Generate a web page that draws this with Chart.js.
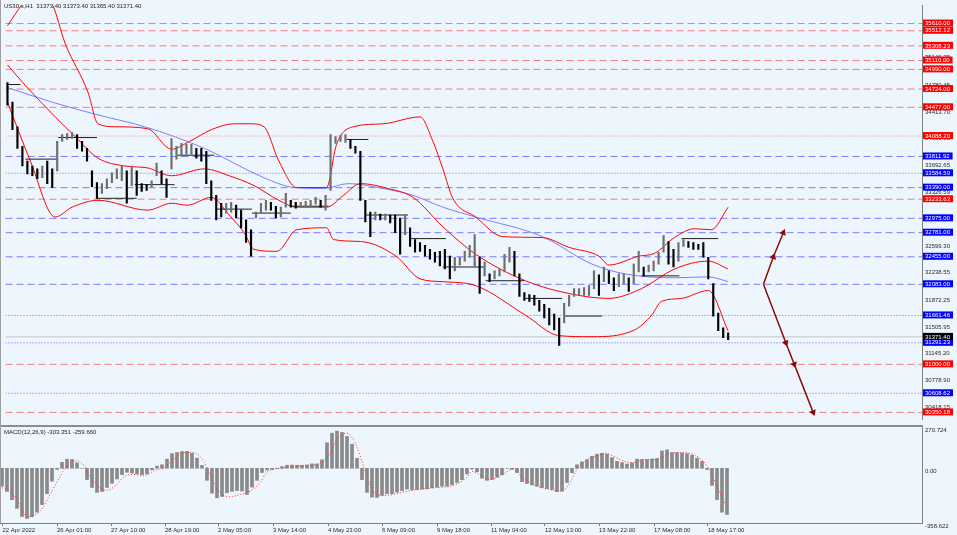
<!DOCTYPE html>
<html lang="en">
<head>
<meta charset="utf-8">
<title>US30.s H1</title>
<script src="https://cdn.jsdelivr.net/npm/chart.js@4/dist/chart.umd.min.js"></script>
<style>
  body { margin: 0; width: 957px; height: 535px; overflow: hidden; position: relative; background: #eef6fd; font-family: 'Liberation Sans', Arial, sans-serif; }
  canvas { position: absolute; left: 0; }
  #price { top: 0; }
  #macd { top: 420px; }
  .separator { position: absolute; left: 0; top: 425px; width: 923px; height: 2px; background: #8c8c8c; }
  .left-edge { position: absolute; left: 0; top: 0; width: 1px; height: 523px; background: #a0a0a0; }
  .caption { position: absolute; left: 4px; font-size: 6px; line-height: 7px; color: #1a1a1a; white-space: pre; }
</style>
</head>
<body>
<canvas id="price" width="957" height="425"></canvas>
<canvas id="macd" width="957" height="115"></canvas>
<div class="separator"></div>
<div class="left-edge"></div>
<div class="caption" style="top:3px">US30.s,H1  31373.40 31373.40 31365.40 31371.40</div>
<div class="caption" style="top:429px">MACD(12,26,9) -303.351 -259.660</div>
<script>
// Price bars (high / low), one entry every few hours
const barHigh = [
  34811, 34546, 34214, 33949, 33750, 33683, 33644, 33683, 33750, 33644,
  34015, 34108, 34121, 34135, 34108, 34015, 33922, 33617, 33458, 33445,
  33511, 33591, 33644, 33683, 33617, 33683, 33617, 33445, 33431, 33484,
  33723, 33617, 33511, 34055, 33949, 33989, 33975, 33975, 33922, 33922,
  33883, 33484, 33286, 33179, 33179, 33193, 33153, 33086, 32954, 32821,
  33060, 33179, 33219, 33193, 33139, 33126, 33312, 33219, 33193, 33193,
  33206, 33219, 33259, 33219, 33286, 34108, 34082, 34095, 34108, 34042,
  33949, 33883, 33219, 33060, 33060, 33033, 33033, 33020, 33020, 32980,
  33020, 32847, 32688, 32648, 32609, 32555, 32516, 32529, 32555, 32463,
  32449, 32449, 32529, 32609, 32755, 32449, 32383, 32224, 32264, 32290,
  32489, 32582, 32529, 32224, 31972, 31945, 31932, 31865, 31812, 31759,
  31680, 31627, 31826, 31932, 32025, 32025, 32038, 32065, 32264, 32210,
  32317, 32264, 32171, 32224, 32224, 32171, 32356, 32529, 32317, 32343,
  32396, 32516, 32741, 32662, 32555, 32648, 32688, 32662, 32648, 32622,
  32648, 32449, 32091, 31693, 31494, 31428,
]
const barLow = [
  34506, 34174, 33922, 33683, 33577, 33551, 33511, 33524, 33445, 33392,
  33617, 34015, 34042, 34055, 33922, 33883, 33750, 33405, 33246, 33312,
  33378, 33458, 33511, 33484, 33179, 33418, 33286, 33339, 33352, 33392,
  33551, 33445, 33259, 33644, 33776, 33816, 33843, 33843, 33790, 33750,
  33445, 33219, 32954, 32993, 33046, 33060, 32980, 32847, 32648, 32463,
  32980, 33046, 33086, 33086, 32980, 32993, 33126, 33126, 33113, 33126,
  33126, 33126, 33166, 33126, 33086, 33352, 33989, 34015, 34002, 33922,
  33856, 33219, 32927, 32728, 32954, 32954, 32954, 32914, 32781, 32489,
  32755, 32595, 32516, 32529, 32463, 32423, 32383, 32330, 32290, 32157,
  32264, 32343, 32396, 32449, 32317, 31958, 32197, 32118, 32157, 32197,
  32250, 32383, 32197, 31918, 31865, 31852, 31799, 31719, 31627, 31534,
  31467, 31255, 31560, 31786, 31918, 31932, 31932, 31932, 32025, 31932,
  32118, 32091, 31998, 32051, 32091, 31985, 32091, 32250, 32197, 32250,
  32264, 32356, 32516, 32356, 32317, 32396, 32595, 32582, 32555, 32555,
  32449, 32157, 31653, 31454, 31361, 31335,
]
const lastPrice = 31371.40

// Bollinger bands and the slow moving average (bar index / value)
const bbUpperX = [0, 3, 5.6, 9, 11.6, 16.2, 18.2, 21.6, 28.2, 33, 36.6, 41, 45.6, 49, 51.6, 54.6, 58.2, 64.2, 66.2, 69.6, 75.6, 83, 85.6, 87.6, 89.6, 94.2, 99.6, 107.6, 113, 119, 121, 127, 130.2, 134.2, 138.2, 141.6, 145]
const bbUpperY = [35581, 35873, 36070, 35873, 35342, 34679, 34254, 34214, 34188, 33909, 34015, 34174, 34254, 34254, 34214, 33750, 33392, 33392, 33975, 34214, 34254, 34347, 34015, 33644, 33246, 32993, 32728, 32715, 32582, 32463, 32343, 32463, 32502, 32715, 32834, 32821, 33126]
const bbMiddleX = [0, 3.6, 9.6, 13.6, 18.2, 23.6, 28.2, 33, 39.6, 44.6, 49.6, 54.6, 58.2, 64.2, 67.6, 71, 76.6, 81.6, 87.6, 94.2, 104.2, 113, 121, 127.6, 134.2, 141, 145]
const bbMiddleY = [35050, 34772, 34347, 34082, 33790, 33683, 33657, 33551, 33644, 33551, 33418, 33219, 33126, 33126, 33286, 33445, 33378, 33259, 32861, 32489, 32131, 31958, 31892, 32025, 32290, 32396, 32290]
const bbLowerX = [0, 4.6, 9.6, 13, 18.2, 28.2, 33, 36.2, 41, 44.6, 47.6, 49.6, 54.2, 58.2, 64.2, 65.6, 71, 78.2, 83, 87.6, 94.2, 104.2, 111, 117.6, 126.2, 129.6, 131.6, 135.6, 141, 145]
const bbLowerY = [34546, 33750, 32993, 33126, 33219, 33086, 33179, 33153, 33259, 33020, 32781, 32555, 32529, 32821, 32847, 32688, 32662, 32463, 32157, 32118, 32065, 31666, 31388, 31374, 31467, 31666, 31852, 31892, 31998, 31454]
const maX = [0, 9, 18.2, 27.6, 39.6, 51.6, 57.6, 63.6, 68.6, 75.6, 81.6, 87.6, 94.2, 107.6, 117.6, 124.2, 134.2, 141, 145]
const maY = [34745, 34546, 34374, 34214, 33922, 33524, 33392, 33378, 33445, 33378, 33286, 33126, 32993, 32728, 32356, 32224, 32171, 32184, 32118]

// Short horizontal pivot segments (start bar, end bar, price)
const pivotStart = [0, 3.6, 10.2, 18.2, 25.6, 34.2, 42.2, 49.2, 57, 68.2, 72.2, 81.2, 87.6, 96.2, 104.2, 112.2, 127.6, 135.6]
const pivotEnd = [2.6, 10, 18, 26, 33.6, 41.6, 49.2, 57, 64.6, 72.6, 80.6, 88.2, 96, 104, 111.6, 119.6, 135.2, 143]
const pivotLevel = [34785, 33776, 34068, 33246, 33431, 33829, 33100, 33046, 33139, 34042, 33020, 32701, 32317, 32131, 31892, 31653, 32197, 32701]

// Horizontal levels
const redLevels = [35610.00, 35512.12, 35308.23, 35110.00, 34990.00, 34724.00, 34477.00, 33233.63, 31000.00, 30350.18]
const redDottedLevels = [34088.20]
const blueLevels = [33811.92, 33390.00, 32975.00, 32781.00, 32455.00, 32083.00]
const blueDottedLevels = [33584.59, 31661.46, 31291.23, 30608.62]
const priceAxisLabels = [35146.75, 34780.45, 34413.70, 34058.95, 33692.65, 33326.59, 32965.60, 32599.30, 32238.55, 31872.25, 31505.95, 31145.20, 30778.90, 30418.15]

// Projection arrows
const upArrowX = [152.1, 154.1, 156.1]
const upArrowY = [32083, 32455, 32781]
const downArrowX = [152.1, 156.6, 158.3, 162.1]
const downArrowY = [32083, 31291.23, 31000, 30350.18]

// MACD(12,26,9)
const macdHist = [
  -117, -152, -206, -263, -316, -329, -318, -288, -238, -167,
  -84, -7, 39, 60, 58, 35, 0, -74, -126, -158,
  -152, -126, -98, -70, -42, -26, -31, -37, -42, -37,
  -9, 14, 23, 60, 96, 104, 110, 111, 98, 67,
  19, -79, -163, -194, -185, -160, -151, -146, -149, -172,
  -123, -79, -28, -11, -7, -1, 11, 20, 21, 20,
  20, 22, 29, 28, 56, 167, 230, 244, 235, 209,
  158, 65, -74, -158, -189, -191, -177, -166, -166, -156,
  -146, -136, -141, -140, -137, -135, -128, -123, -117, -117,
  -108, -93, -74, -37, -5, -23, -65, -79, -73, -58,
  -42, 0, -7, -28, -88, -100, -109, -117, -126, -133,
  -139, -153, -149, -93, -29, 23, 42, 56, 79, 93,
  98, 93, 70, 45, 37, 28, 35, 60, 58, 58,
  61, 64, 114, 121, 103, 103, 100, 96, 86, 67,
  45, -7, -112, -205, -288, -303,
]
const signalX = [0, 1.6, 3.6, 4.9, 7.6, 9.6, 11.3, 12.9, 14.6, 15.9, 17.6, 19.6, 20.9, 22.6, 24.6, 26.3, 28.3, 30.3, 32.3, 34.3, 36.3, 38.3, 40.3, 41.9, 43.6, 45.6, 47.6, 49.6, 51.6, 52.9, 54.3, 56.3, 59.6, 62.9, 65.3, 66.9, 68.9, 70.6, 72.3, 73.6, 74.9, 76.9, 79.6, 82.9, 86.3, 90.3, 92.9, 94, 95.6, 97.6, 100.2, 102.2, 104.2, 107, 109.6, 112, 113.6, 115, 116.6, 119, 120.6, 122.2, 124.2, 126.2, 128.2, 131, 133.6, 136.2, 138.2, 140.2, 141.6, 143, 144.2, 145]
const signalY = [-128, -150, -238, -315, -282, -172, -73, 15, 48, 37, -51, -128, -145, -117, -51, -40, -51, -18, 4, 59, 103, 103, 48, -62, -161, -187, -172, -150, -95, -29, -7, 4, 15, 26, 81, 180, 231, 169, 15, -106, -172, -178, -161, -139, -128, -112, -62, -20, -45, -73, -40, -2, -62, -117, -139, -150, -95, -7, 48, 81, 99, 81, 48, 37, 55, 59, 99, 103, 92, 48, -18, -117, -205, -255]
const macdAxisValues = [270.724, 0, -358.622]
const macdAxisLabels = ['270.724', '0.00', '-358.622']

// Time axis
const timeTickIndex = [0.1, 11, 21.8, 32.6, 43.2, 54.2, 65.2, 76, 87, 97.8, 108.6, 119.4, 130.4, 141.2]
const timeTickLabels = ['22 Apr 2022', '26 Apr 01:00', '27 Apr 10:00', '28 Apr 19:00', '2 May 05:00', '3 May 14:00', '4 May 23:00', '6 May 09:00', '9 May 18:00', '11 May 04:00', '12 May 13:00', '13 May 22:00', '17 May 08:00', '18 May 17:00']

const X_MIN = -0.4
const X_MAX = 184
const FONT = { family: "'Liberation Sans', Arial, sans-serif", size: 6, lineHeight: 1 }
const AXIS_GRAY = '#808080'

const points = (xs, ys) => xs.map((x, i) => ({ x, y: ys[i] }))

const levelLine = (value, color, dash) => ({
  data: [{ x: X_MIN, y: value }, { x: X_MAX, y: value }],
  borderColor: color,
  borderWidth: 1,
  borderDash: dash,
  order: 6,
})

const smoothLine = (xs, ys, color) => ({
  data: points(xs, ys),
  borderColor: color,
  borderWidth: 1,
  cubicInterpolationMode: 'monotone',
  order: 4,
})

const arrow = (xs, ys, rotation) => ({
  data: points(xs, ys),
  borderColor: '#8b0a0a',
  backgroundColor: '#8b0a0a',
  borderWidth: 1.5,
  pointStyle: 'triangle',
  pointRotation: rotation,
  pointRadius: xs.map((x, i) => (i === 0 ? 0 : 2.5)),
  order: 0,
})

const barColors = barHigh.map((high, i) => {
  if (i === 0) return '#000000'
  const mid = (high + barLow[i]) / 2
  const prevMid = (barHigh[i - 1] + barLow[i - 1]) / 2
  return mid < prevMid ? '#000000' : '#6e6e6e'
})

const pivotData = []
pivotLevel.forEach((level, i) => {
  pivotData.push({ x: pivotStart[i], y: level }, { x: pivotEnd[i], y: level }, { x: pivotEnd[i], y: null })
})

// which style each price-axis label gets
const tickKind = new Map()
priceAxisLabels.forEach((v) => tickKind.set(v, 'gray'))
blueLevels.concat(blueDottedLevels).forEach((v) => tickKind.set(v, 'blue'))
redLevels.concat(redDottedLevels).forEach((v) => tickKind.set(v, 'red'))
tickKind.set(lastPrice, 'black')
const backdrops = { red: '#ff0000', blue: '#0000ff', black: '#000000' }
const kindOf = (ctx) => (ctx.tick ? tickKind.get(ctx.tick.value) : 'gray')

const levelDatasets = [
  ...redLevels.map((v) => levelLine(v, '#f27c7c', [7, 4])),
  ...redDottedLevels.map((v) => levelLine(v, '#f27c7c', [1, 2])),
  ...blueLevels.map((v) => levelLine(v, '#7a7aff', [7, 4])),
  ...blueDottedLevels.map((v) => levelLine(v, '#6a6aff', [1, 2])),
  levelLine(lastPrice, '#c4c4c4', []),
]

Chart.defaults.font.family = FONT.family
Chart.defaults.animation = false

new Chart(document.getElementById('price'), {
  type: 'line',
  data: {
    datasets: [
      arrow(upArrowX, upArrowY, 21),
      arrow(downArrowX, downArrowY, 159),
      {
        type: 'bar',
        data: barHigh.map((high, i) => ({ x: i, y: [barLow[i], high] })),
        backgroundColor: barColors,
        barThickness: 1.5,
        order: 1,
      },
      { data: pivotData, borderColor: '#1e1e1e', borderWidth: 1, order: 2 },
      smoothLine(bbUpperX, bbUpperY, '#ff0000'),
      smoothLine(bbMiddleX, bbMiddleY, '#ff0000'),
      smoothLine(bbLowerX, bbLowerY, '#ff0000'),
      { ...smoothLine(maX, maY, '#7c7cff'), order: 5 },
      ...levelDatasets,
    ],
  },
  options: {
    responsive: false,
    devicePixelRatio: 1,
    events: [],
    layout: { padding: 0 },
    elements: { point: { radius: 0 }, line: { tension: 0 } },
    plugins: { legend: { display: false }, tooltip: { enabled: false } },
    scales: {
      x: { type: 'linear', min: X_MIN, max: X_MAX, display: false, offset: false },
      y: {
        type: 'linear',
        position: 'right',
        min: 30254,
        max: 35854,
        afterBuildTicks: (scale) => {
          scale.ticks = [...tickKind.keys()].map((value) => ({ value }))
        },
        afterFit: (scale) => {
          scale.width = 35
          scale.paddingTop = 0
          scale.paddingBottom = 0
        },
        grid: { display: false, drawTicks: false },
        border: { display: true, color: AXIS_GRAY },
        ticks: {
          autoSkip: false,
          padding: 3,
          font: FONT,
          color: (ctx) => (kindOf(ctx) === 'gray' ? '#2a2a2a' : '#ffffff'),
          showLabelBackdrop: (ctx) => kindOf(ctx) !== 'gray',
          backdropColor: (ctx) => backdrops[kindOf(ctx)] || 'rgba(0,0,0,0)',
          backdropPadding: { top: 1, bottom: 0, left: 2, right: 3 },
          callback: (value) => value.toFixed(2),
        },
      },
    },
  },
})

new Chart(document.getElementById('macd'), {
  type: 'bar',
  data: {
    datasets: [
      {
        type: 'line',
        data: points(signalX, signalY),
        borderColor: '#ff2a2a',
        borderWidth: 1,
        borderDash: [1, 2],
        pointRadius: 0,
        cubicInterpolationMode: 'monotone',
        order: 0,
      },
      {
        type: 'bar',
        data: macdHist.map((v, i) => ({ x: i, y: v })),
        backgroundColor: '#8a8a8a',
        barThickness: 3,
        order: 1,
      },
    ],
  },
  options: {
    responsive: false,
    devicePixelRatio: 1,
    events: [],
    layout: { padding: { top: 7, left: 0, right: 0, bottom: 0 } },
    plugins: { legend: { display: false }, tooltip: { enabled: false } },
    scales: {
      x: {
        type: 'linear',
        min: X_MIN,
        max: X_MAX,
        offset: false,
        afterBuildTicks: (scale) => {
          scale.ticks = timeTickIndex.map((value) => ({ value }))
        },
        afterFit: (scale) => {
          scale.height = 12
          scale.paddingLeft = 0
          scale.paddingRight = 0
        },
        grid: { display: true, offset: false, drawOnChartArea: false, drawTicks: true, tickLength: 3, color: AXIS_GRAY },
        border: { display: true, color: AXIS_GRAY },
        ticks: {
          autoSkip: false,
          maxRotation: 0,
          align: 'start',
          padding: 1,
          font: FONT,
          color: '#2a2a2a',
          callback: (value, index) => timeTickLabels[index],
        },
      },
      y: {
        type: 'linear',
        position: 'right',
        min: -358.622,
        max: 270.724,
        afterBuildTicks: (scale) => {
          scale.ticks = macdAxisValues.map((value) => ({ value }))
        },
        afterFit: (scale) => {
          scale.width = 35
          scale.paddingTop = 0
          scale.paddingBottom = 0
        },
        grid: { display: false, drawTicks: false },
        border: { display: true, color: AXIS_GRAY },
        ticks: {
          autoSkip: false,
          align: 'start',
          padding: 3,
          font: FONT,
          color: '#2a2a2a',
          callback: (value, index) => macdAxisLabels[index],
        },
      },
    },
  },
})
</script>
</body>
</html>
